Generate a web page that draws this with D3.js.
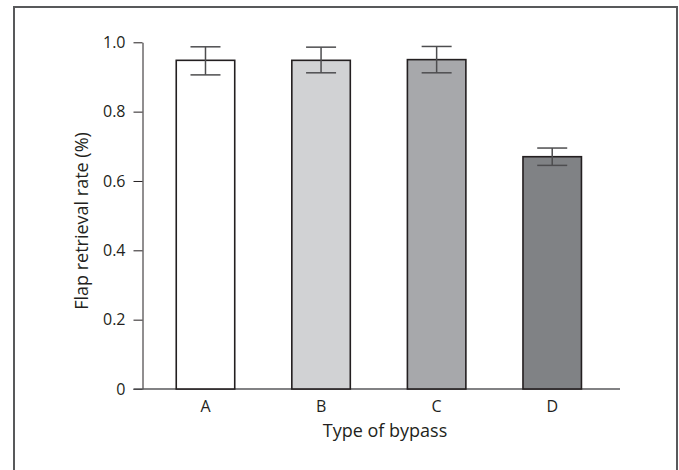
<!DOCTYPE html>
<html><head><meta charset="utf-8">
<script src="https://cdn.jsdelivr.net/npm/d3@7"></script>
<style>
body{margin:0;background:#fff;}
svg{display:block;}
svg text{font-family:'Open Sans','Noto Sans',sans-serif;}
</style></head>
<body>
<svg id="chart" width="679" height="470"></svg>
<script>
const categories = ["A","B","C","D"];
const values = [0.948, 0.948, 0.950, 0.670];
const errLow = [0.906, 0.912, 0.912, 0.645];
const errHigh = [0.987, 0.986, 0.988, 0.695];
const fills = ["#ffffff","#d1d2d4","#a7a8ab","#808285"];
const yTicks = [0, 0.2, 0.4, 0.6, 0.8, 1.0];
const yTickLabels = ["0","0.2","0.4","0.6","0.8","1.0"];

const FONT = "'Open Sans','Noto Sans',sans-serif";
const svg = d3.select("#chart");

// outer frame
svg.append("rect").attr("x",14).attr("y",7).attr("width",663).attr("height",480)
  .attr("fill","none").attr("stroke","#58595b").attr("stroke-width",2);

const x = d3.scaleBand().domain(categories).range([147.7,610]).paddingInner(0.494).paddingOuter(0.247);
const y = d3.scaleLinear().domain([0,1]).range([389,42.3]);

// y axis
const yAxis = svg.append("g").attr("transform","translate(142.5,0)")
  .call(d3.axisLeft(y).tickValues(yTicks).tickFormat((d,i)=>yTickLabels[i]).tickSize(9).tickSizeOuter(0).tickPadding(8));
yAxis.attr("font-size",16).attr("font-family",FONT);
yAxis.select(".domain").attr("stroke","#231f20").attr("stroke-width",1);
yAxis.selectAll(".tick line").attr("stroke","#231f20").attr("stroke-width",1);
yAxis.selectAll(".tick text").attr("fill","#231f20");

// x axis
const xAxis = svg.append("g").attr("transform","translate(0,389)")
  .call(d3.axisBottom(x).tickSize(0).tickPadding(9));
xAxis.attr("font-size",16).attr("font-family",FONT);
xAxis.select(".domain").remove();
xAxis.selectAll(".tick text").attr("fill","#231f20").attr("dy",null).attr("y",22.5);
svg.append("line").attr("x1",133.5).attr("x2",620).attr("y1",389).attr("y2",389)
  .attr("stroke","#58595b").attr("stroke-width",1.5);

// bars
svg.append("g").selectAll("rect").data(categories).join("rect")
  .attr("x",d=>x(d)).attr("width",x.bandwidth())
  .attr("y",(d,i)=>y(values[i])).attr("height",(d,i)=>y(0)-y(values[i]))
  .attr("fill",(d,i)=>fills[i]).attr("stroke","#231f20").attr("stroke-width",1.6);

// error bars
const eg = svg.append("g").attr("stroke","#4d4d4f").attr("stroke-width",1.5);
categories.forEach((c,i)=>{
  const cx = x(c)+x.bandwidth()/2;
  eg.append("line").attr("x1",cx).attr("x2",cx).attr("y1",y(errHigh[i])).attr("y2",y(errLow[i]));
  eg.append("line").attr("x1",cx-15).attr("x2",cx+15).attr("y1",y(errHigh[i])).attr("y2",y(errHigh[i]));
  eg.append("line").attr("x1",cx-15).attr("x2",cx+15).attr("y1",y(errLow[i])).attr("y2",y(errLow[i]));
});

// axis titles
svg.append("text").attr("x",385).attr("y",437).attr("text-anchor","middle")
  .attr("font-size",18).attr("fill","#231f20").text("Type of bypass");
svg.append("text").attr("transform","translate(88,221) rotate(-90)").attr("text-anchor","middle")
  .attr("font-size",18).attr("fill","#231f20").text("Flap retrieval rate (%)");
</script>
</body></html>
